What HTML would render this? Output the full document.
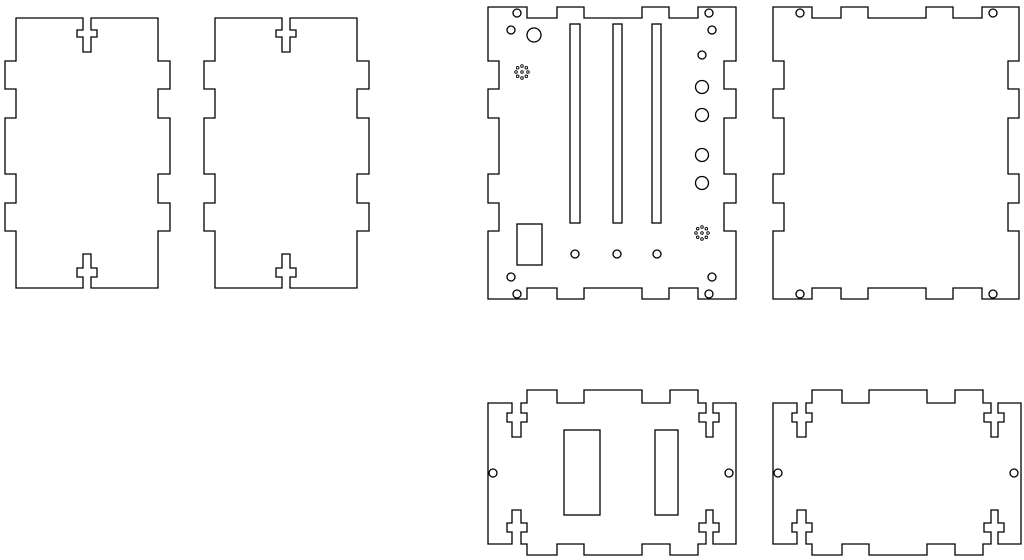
<!DOCTYPE html>
<html><head><meta charset="utf-8"><style>
html,body{margin:0;padding:0;background:#fff;width:1024px;height:560px;overflow:hidden}
svg{display:block}
</style></head><body>
<svg width="1024" height="560" viewBox="0 0 1024 560" xmlns="http://www.w3.org/2000/svg">
<defs>
<g id="side"><path d="M16,18 H83 V30 H77 V37 H83 V52 H91 V37 H97 V30 H91 V18 H158 V61 H170 V89 H158 V118 H170 V174 H158 V203 H170 V231 H158 V288 H91 V277 H97 V268 H91 V254 H83 V268 H77 V277 H83 V288 H16 V231 H5 V203 H16 V174 H5 V118 H16 V89 H5 V61 H16 Z"/></g>
<g id="bot"><path d="M488,403 H512 V413 H507 V422 H512 V437 H521 V422 H527 V413 H521 V403 H527 V390 H557 V403 H584 V390 H642 V403 H670 V390 H698 V403 H706 V413 H699 V422 H706 V437 H713 V422 H719 V413 H713 V403 H736 V544 H713 V532 H719 V523 H713 V510 H706 V523 H699 V532 H706 V544 H698 V555 H670 V544 H642 V555 H584 V544 H557 V555 H527 V544 H521 V532 H527 V523 H521 V510 H512 V523 H507 V532 H512 V544 H488 Z"/>
<circle cx="493" cy="473" r="4"/><circle cx="729" cy="473" r="4"/></g>
<g id="spk"><circle cx="0" cy="0" r="1.3"/><circle cx="6" cy="0" r="1.3"/><circle cx="-6" cy="0" r="1.3"/><circle cx="0" cy="6" r="1.3"/><circle cx="0" cy="-6" r="1.3"/><circle cx="4.3" cy="4.3" r="1.3"/><circle cx="-4.3" cy="4.3" r="1.3"/><circle cx="4.3" cy="-4.3" r="1.3"/><circle cx="-4.3" cy="-4.3" r="1.3"/></g>
</defs>
<g fill="none" stroke="#000" stroke-width="1.3">
<use href="#side"/>
<use href="#side" transform="translate(199,0)"/>
<path d="M488,7 H527 V18 H557 V7 H584 V18 H642 V7 H669 V18 H698 V7 H736 V61 H724 V89 H736 V118 H724 V174 H736 V203 H724 V231 H736 V299 H698 V288 H669 V299 H642 V288 H584 V299 H557 V288 H527 V299 H488 V231 H499 V203 H488 V174 H499 V118 H488 V89 H499 V61 H488 Z"/>
<rect x="570" y="24" width="10" height="199"/>
<rect x="613" y="24" width="9" height="199"/>
<rect x="652" y="24" width="9" height="199"/>
<rect x="517" y="224" width="25" height="41"/>
<circle cx="517" cy="13" r="4"/><circle cx="511" cy="30" r="4"/><circle cx="534" cy="35" r="7"/>
<circle cx="709" cy="13" r="4"/><circle cx="712" cy="30" r="4"/><circle cx="702" cy="55" r="4"/>
<circle cx="702" cy="87" r="6.5"/><circle cx="702" cy="115" r="6.5"/><circle cx="702" cy="155" r="6.5"/><circle cx="702" cy="183" r="6.5"/>
<circle cx="575" cy="254" r="4"/><circle cx="617" cy="254" r="4"/><circle cx="657" cy="254" r="4"/>
<circle cx="511" cy="277" r="4"/><circle cx="517" cy="294" r="4"/><circle cx="712" cy="277" r="4"/><circle cx="709" cy="294" r="4"/>
<g stroke-width="0.9"><use href="#spk" transform="translate(522,72)"/><use href="#spk" transform="translate(702,233)"/></g>
<path d="M773,7 H812 V18 H841 V7 H868 V18 H926 V7 H953 V18 H982 V7 H1019 V61 H1008 V89 H1019 V118 H1008 V174 H1019 V203 H1008 V231 H1019 V299 H982 V288 H953 V299 H926 V288 H868 V299 H841 V288 H812 V299 H773 V231 H784 V203 H773 V174 H784 V118 H773 V89 H784 V61 H773 Z"/>
<circle cx="800" cy="13" r="4"/><circle cx="993" cy="13" r="4"/><circle cx="800" cy="294" r="4"/><circle cx="993" cy="294" r="4"/>
<use href="#bot"/>
<rect x="564" y="430" width="36" height="85"/>
<rect x="655" y="430" width="23" height="85"/>
<use href="#bot" transform="translate(285,0)"/>
</g>
</svg>
</body></html>
